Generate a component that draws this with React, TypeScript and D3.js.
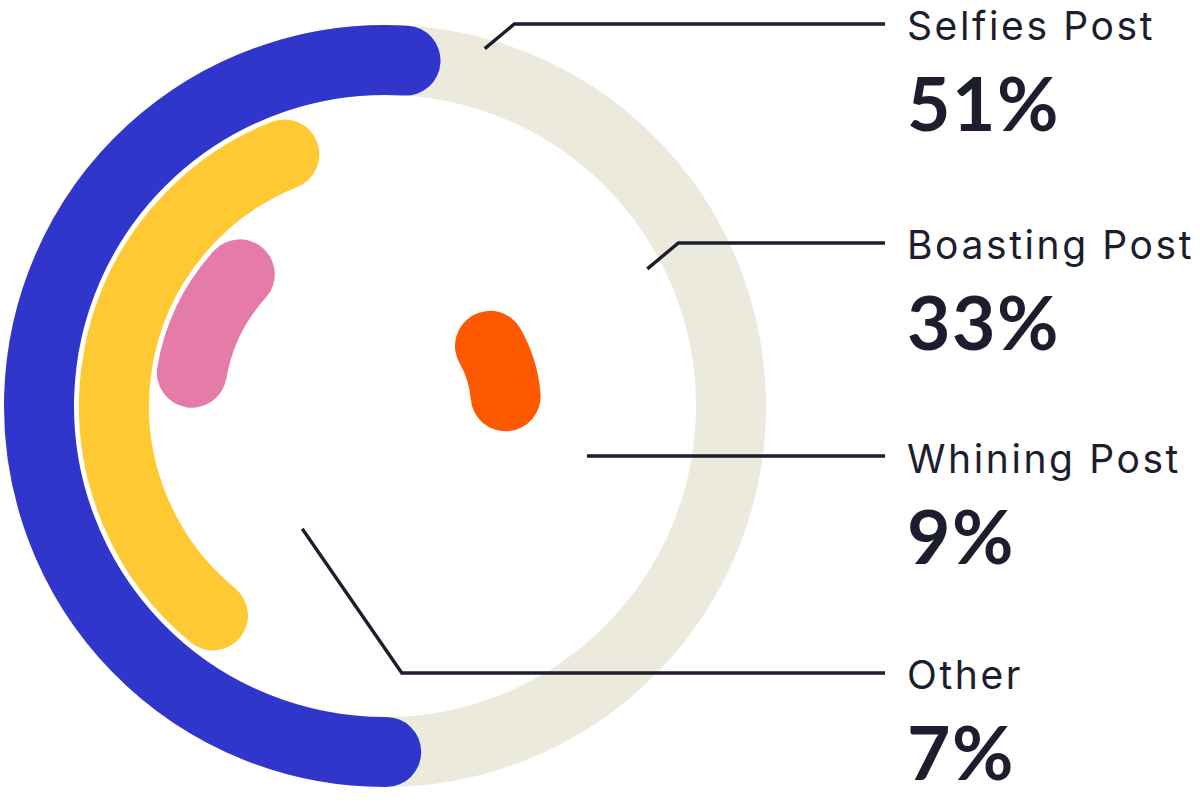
import React from "react";
import * as d3 from "d3";

// data
const categories = ["Selfies Post", "Boasting Post", "Whining Post", "Other"];
const shares = [51, 33, 9, 7];
const colors = ["#3035cc", "#ffc933", "#e47ba9", "#ff5900"];

// layout (degrees clockwise from 12 o'clock, where each ring's arc starts)
const ringStart = [-180.2, -140.6, -80.2, 60.2];
// leader lines: start point in polar coords, line height, slope of the diagonal
const leaders = [
  { angle: 15.6, radius: 371, lineY: 24, run: 1.2 },
  { angle: 62.4, radius: 296, lineY: 243, run: 1.2 },
  { angle: 103.9, radius: 208, lineY: 457, run: 0 },
  { angle: 214, radius: 148, lineY: 673, run: 0.69 }
];

const width = 1200,
  height = 809;
const cx = 385,
  cy = 406;
const band = 70;
const textX = 907;
const lineEnd = 885;
const ink = "#1c1e2e";
const track = "#ece9dd";

const rad = d => (d * Math.PI) / 180;

// radius of each ring, outermost first
const r = d3
  .scaleLinear()
  .domain([0, 1])
  .range([346, 271]);

const angle = d3
  .scaleLinear()
  .domain([0, 100])
  .range([0, 360]);

function polar(a, radius) {
  return [cx + Math.sin(rad(a)) * radius, cy - Math.cos(rad(a)) * radius];
}

export default function App() {
  return (
    <svg
      width={width}
      height={height}
      style={{ position: "absolute", left: 0, top: 0, background: "#fff" }}
    >
      <circle
        cx={cx}
        cy={cy}
        r={r(0)}
        fill="none"
        stroke={track}
        strokeWidth={band}
      />
      {shares.map((v, i) => {
        const a0 = ringStart[i];
        const a1 = a0 + angle(v);
        const p = d3.path();
        p.moveTo(...polar(a0, r(i)));
        p.arc(cx, cy, r(i), rad(a0 - 90), rad(a1 - 90), false);
        return (
          <path
            key={categories[i]}
            d={p.toString()}
            fill="none"
            stroke={colors[i]}
            strokeWidth={band}
            strokeLinecap="round"
          />
        );
      })}
      {leaders.map((l, i) => {
        const [x0, y0] = polar(l.angle, l.radius);
        const y1 = l.run === 0 ? y0 : l.lineY;
        const x1 = x0 + Math.abs(l.lineY - y0) * l.run;
        const line = d3.line()([
          [x0, y0],
          [x1, y1],
          [lineEnd, y1]
        ]);
        return (
          <g key={categories[i]}>
            <path
              d={line}
              fill="none"
              stroke={ink}
              strokeWidth={3.4}
              strokeLinejoin="miter"
            />
            <text
              x={textX}
              y={l.lineY + 16}
              fontFamily="Inter, Lato, sans-serif"
              fontSize={39}
              letterSpacing={2.6}
              fill={ink}
            >
              {categories[i]}
            </text>
            <text
              x={textX}
              y={l.lineY + 107}
              fontFamily="Lato, sans-serif"
              fontSize={75}
              fontWeight={700}
              letterSpacing={1.5}
              fill={ink}
            >
              {shares[i] + "%"}
            </text>
          </g>
        );
      })}
    </svg>
  );
}
